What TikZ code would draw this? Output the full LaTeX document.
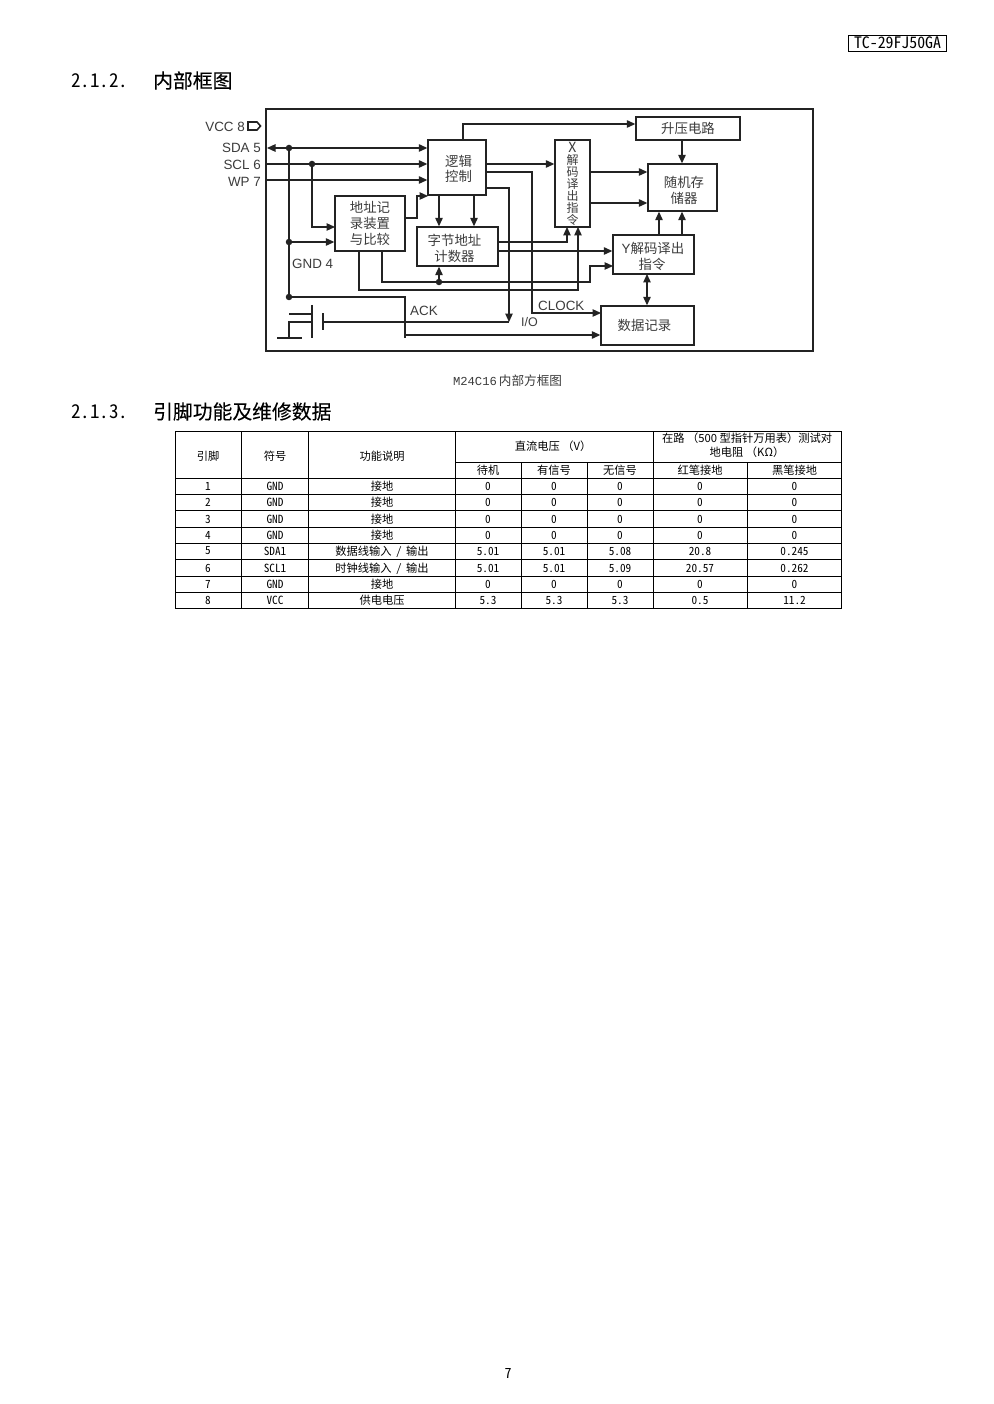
\documentclass[tikz,border=0pt]{standalone}
\usepackage{fontspec}
\setmainfont{Liberation Sans}
\newfontfamily\cjk{Noto Sans CJK SC}
\newfontfamily\cjkh[FakeBold=0.12]{Noto Sans CJK SC}
\newfontfamily\hei[RawFeature=+hwid]{Noto Sans CJK SC}
\newfontfamily\song{Liberation Mono}
\usetikzlibrary{arrows.meta}
\definecolor{inkGray}{RGB}{35,35,35}
\definecolor{txtGray}{RGB}{60,60,60}
\newcommand{\fsz}[1]{\fontsize{#1}{#1}\selectfont}
\newcommand{\tp}{\rule{0pt}{14pt}}
\newcommand{\ioSlash}{\hspace{4.5pt}\smash{\hei\fsz{11.25}/}\hspace{4.5pt}}
\tikzset{
	blk/.style={draw=inkGray, line width=1.4pt, fill=white, inner sep=0pt, align=center, text=txtGray, font=\cjk\fsz{13.4}},
	wire/.style={draw=inkGray, line width=1.2pt},
	arr/.style={wire, -{Triangle[length=8.5pt,width=7.5pt]}},
	bi/.style={wire, {Triangle[length=8.5pt,width=7.5pt]}-{Triangle[length=8.5pt,width=7.5pt]}},
	jdot/.style={circle, fill=inkGray, inner sep=0pt, minimum size=6.5pt},
	pinlab/.style={anchor=east, text=txtGray, inner sep=0pt, font=\fsz{13.4}},
	head/.style={anchor=west, inner sep=0pt, font=\cjkh\fsz{19.8}},
	headnum/.style={anchor=west, inner sep=0pt, font=\hei\fsz{19}},
	grid/.style={draw=black, line width=0.8pt},
	cn/.style={inner sep=0pt, align=center, font=\cjk\fsz{11.25}},
	mono/.style={inner sep=0pt, font=\hei\fsz{11.25}},
}
\begin{document}
\begin{tikzpicture}[x=1pt,y=-1pt]
	\useasboundingbox (0,0) rectangle (993,1404);
	\fill[white] (0,0) rectangle (993,1404);

	% page head
	\node[draw=black, line width=0.9pt, minimum width=98, minimum height=16, inner sep=0pt, font=\hei\fsz{15.8}] (model) at (897.5,43) {TC-29FJ50GA};
	\node[headnum] (sec1num) at (71,80.5) {2.1.2.};
	\node[head] (sec1) at (153,80.5) {内部框图};

	% block diagram
	\draw[inkGray, line width=1.6pt] (266,109) rectangle (813,351);
	\node[blk, minimum width=58, minimum height=55] (logic) at (457,167.5) {\tp\hspace*{3pt}逻辑\\[2.5pt]\hspace*{3pt}控制};
	\node[blk, minimum width=70, minimum height=55] (addr) at (370,223.5) {地址记\\[3pt]录装置\\[3pt]与比较};
	\node[blk, minimum width=81, minimum height=39] (counter) at (457.5,246.5) {\rule{0pt}{16pt}\hspace*{-6pt}字节地址\\[2.5pt]\hspace*{-6pt}计数器};
	\node[blk, minimum width=35, minimum height=87, font=\cjk\fsz{12}] (xdec) at (572.5,183.5) {\fontsize{12}{11.6}\selectfont {\fsz{14}X}\\解\\码\\译\\出\\指\\令};
	\node[blk, minimum width=104, minimum height=23] (boost) at (688,128.5) {升压电路};
	\node[blk, minimum width=69, minimum height=47] (ram) at (682.5,187.5) {\rule{0pt}{17pt}\hspace*{3pt}随机存\\[2.5pt]\hspace*{3pt}储器};
	\node[blk, minimum width=81, minimum height=39] (ydec) at (653.5,254.5) {\rule{0pt}{16pt}\hspace*{-1pt}{\fontspec{Liberation Sans}Y}解码译出\\[2.5pt]\hspace*{-3pt}指令};
	\node[blk, minimum width=93, minimum height=39] (data) at (647.5,325.5) {\hspace*{-6pt}数据记录};

	% pins
	\node[pinlab] (vcc) at (245,126.5) {VCC 8};
	\node[pinlab] (sda) at (261,147.5) {SDA 5};
	\node[pinlab] (scl) at (261,164.5) {SCL 6};
	\node[pinlab] (wp) at (261,181.5) {WP 7};
	\node[pinlab, anchor=west] (gnd) at (292,263.5) {GND 4};
	\node[pinlab, anchor=west] (ack) at (410,310.5) {ACK};
	\node[pinlab, anchor=west] (clock) at (538,305.5) {CLOCK};
	\node[pinlab, anchor=west, font=\fsz{12.5}] (io) at (521,322.5) {I/O};
	\draw[wire, line width=1.6pt] (248,122) -- (257,122) -- (260.5,126) -- (257,130) -- (248,130) -- cycle;

	% junctions and free ends
	\node[jdot] (sdaJ) at (289,148) {};
	\node[jdot] (sclJ) at (312,164) {};
	\node[jdot] (addrJ) at (289,242) {};
	\node[jdot] (gndJ) at (289,297) {};
	\node[jdot] (cntJ) at (439,282) {};
	\coordinate (sdaEnd) at (267,148);
	\coordinate (sclEnd) at (266,164);
	\coordinate (wpEnd) at (266,180);
	\coordinate (addrInA) at (335,227);
	\coordinate (logicIn) at (428,196);
	\coordinate (addrOutC) at (405,218);
	\coordinate (addrOutA) at (382,251);
	\coordinate (addrOutB) at (359,251);
	\coordinate (byteB) at (474,195);
	\coordinate (clkOut) at (486,172);
	\coordinate (ioOut) at (486,188);
	\coordinate (ioEnd) at (509,322);
	\coordinate (clockIn) at (601,313);
	\coordinate (cntOutA) at (498,242);
	\coordinate (cntOutB) at (498,251);
	\coordinate (xdecA) at (567,227);
	\coordinate (xdecB) at (578,227);
	\coordinate (ydecIn) at (613,266);
	\coordinate (ramA) at (659,235);
	\coordinate (ramB) at (682,235);
	\coordinate (ramRowA) at (590,172);
	\coordinate (ramRowB) at (590,203);
	\coordinate (ackDrop) at (405,338);
	\coordinate (ioBus) at (405,335);
	\coordinate (boostOut) at (463,140);
	\coordinate (ydecData) at (647,274);

	% signal lines
	\draw[bi] (sdaEnd) -- (logic.west |- sdaEnd);
	\draw[arr] (sclEnd) -- (logic.west |- sclEnd);
	\draw[arr] (wpEnd) -- (logic.west |- wpEnd);
	\draw[wire] (sdaJ) -- (gndJ);
	\draw[arr] (sclJ) |- (addrInA);
	\draw[arr] (addrJ) -- (addr.west |- addrJ);
	\draw[arr] (addrOutC) -- ++(12,0) |- (logicIn);
	\draw[arr] (logic.south -| cntJ) -- (counter.north -| cntJ);
	\draw[arr] (byteB) -- (counter.north -| byteB);
	\draw[arr] (boostOut) |- (boost.west |- 0,124);
	\draw[arr] (logic.east |- sclEnd) -- (xdec.west |- sclEnd);
	\draw[arr] (clkOut) -- ++(46,0) |- (clockIn);
	\draw[arr] (ioOut) -| (ioEnd);
	\draw[arr] (cntOutA) -| (xdecA);
	\draw[arr] (cntOutB) -- (ydec.west |- cntOutB);
	\draw[arr] (addrOutA) |- (590,282) |- (ydecIn);
	\draw[arr] (addrOutB) |- (578,290) -- (xdecB);
	\draw[arr] (cntJ) -- (counter.south -| cntJ);
	\draw[arr] (ramRowA) -- (ram.west |- ramRowA);
	\draw[arr] (ramRowB) -- (ram.west |- ramRowB);
	\draw[arr] (boost.south -| ramB) -- (ram.north -| ramB);
	\draw[arr] (ramA) -- (ram.south -| ramA);
	\draw[arr] (ramB) -- (ram.south -| ramB);
	\draw[bi] (ydecData) -- (data.north -| ydecData);
	\draw[wire] (gndJ) -| (ackDrop);
	\draw[arr] (ioBus) -- (data.west |- ioBus);

	% output transistor
	\draw[wire] (289,314) -- (312,314);
	\draw[wire] (312,305) -- (312,338);
	\draw[wire] (323,313) -- (323,330);
	\draw[wire] (323,322) -- (ioEnd);
	\draw[wire] (312,322) -- (289,322) -- (289,338);
	\draw[wire] (277,338) -- (302,338);

	\node[inner sep=0pt, text=txtGray] (caption) at (507.5,380.5) {\song\fsz{12.2}M24C16\,\cjk\fsz{12.6}内部方框图};

	% pin table
	\node[headnum] (sec2num) at (71,411.5) {2.1.3.};
	\node[head] (sec2) at (153,411.5) {引脚功能及维修数据};
	\draw[grid] (175,431) rectangle (841.5,608.5);
	\draw[grid] (175,478) -- (841.5,478);
	\draw[grid] (455,462) -- (841.5,462);
	\foreach \x in {241.5,308.5,455,653} \draw[grid] (\x,431) -- (\x,608.5);
	\foreach \x in {521,587,747} \draw[grid] (\x,462) -- (\x,608.5);
	\foreach \y in {494,510.5,527,543,559.5,576,592.5} \draw[grid] (175,\y) -- (841.5,\y);

	\node[cn] (hPin) at (208,456) {引脚};
	\node[cn] (hSym) at (275,456) {符号};
	\node[cn] (hFn) at (382,456) {功能说明};
	\node[cn] (hDc) at (553,446) {直流电压 （V）};
	\node[cn] (hRes) at (747,445.5) {在路 （500 型指针万用表）测试对\\[2.5pt]地电阻 （KΩ）};
	\node[cn] (hIdle) at (488,470) {待机};
	\node[cn] (hSig) at (554,470) {有信号};
	\node[cn] (hNo) at (620,470) {无信号};
	\node[cn] (hRed) at (700,470) {红笔接地};
	\node[cn] (hBlk) at (794.5,470) {黑笔接地};

	\foreach \n/\y/\sym/\fn/\va/\vb/\vc/\vd/\ve in {
		1/486/GND/接地/0/0/0/0/0,
		2/502.5/GND/接地/0/0/0/0/0,
		3/519/GND/接地/0/0/0/0/0,
		4/535/GND/接地/0/0/0/0/0,
		5/551/SDA1/数据线输入\ioSlash 输出/5.01/5.01/5.08/20.8/0.245,
		6/568/SCL1/时钟线输入\ioSlash 输出/5.01/5.01/5.09/20.57/0.262,
		7/584/GND/接地/0/0/0/0/0,
		8/600.5/VCC/供电电压/5.3/5.3/5.3/0.5/11.2} {
		\node[mono] (pin\n) at (208,\y) {\n};
		\node[mono] (sym\n) at (275,\y) {\sym};
		\node[cn] (fn\n) at (382,\y) {\fn};
		\node[mono] (va\n) at (488,\y) {\va};
		\node[mono] (vb\n) at (554,\y) {\vb};
		\node[mono] (vc\n) at (620,\y) {\vc};
		\node[mono] (vd\n) at (700,\y) {\vd};
		\node[mono] (ve\n) at (794.5,\y) {\ve};
	}

	\node[inner sep=0pt, font=\hei\fsz{14}] (pageno) at (508,1373) {7};
\end{tikzpicture}
\end{document}
